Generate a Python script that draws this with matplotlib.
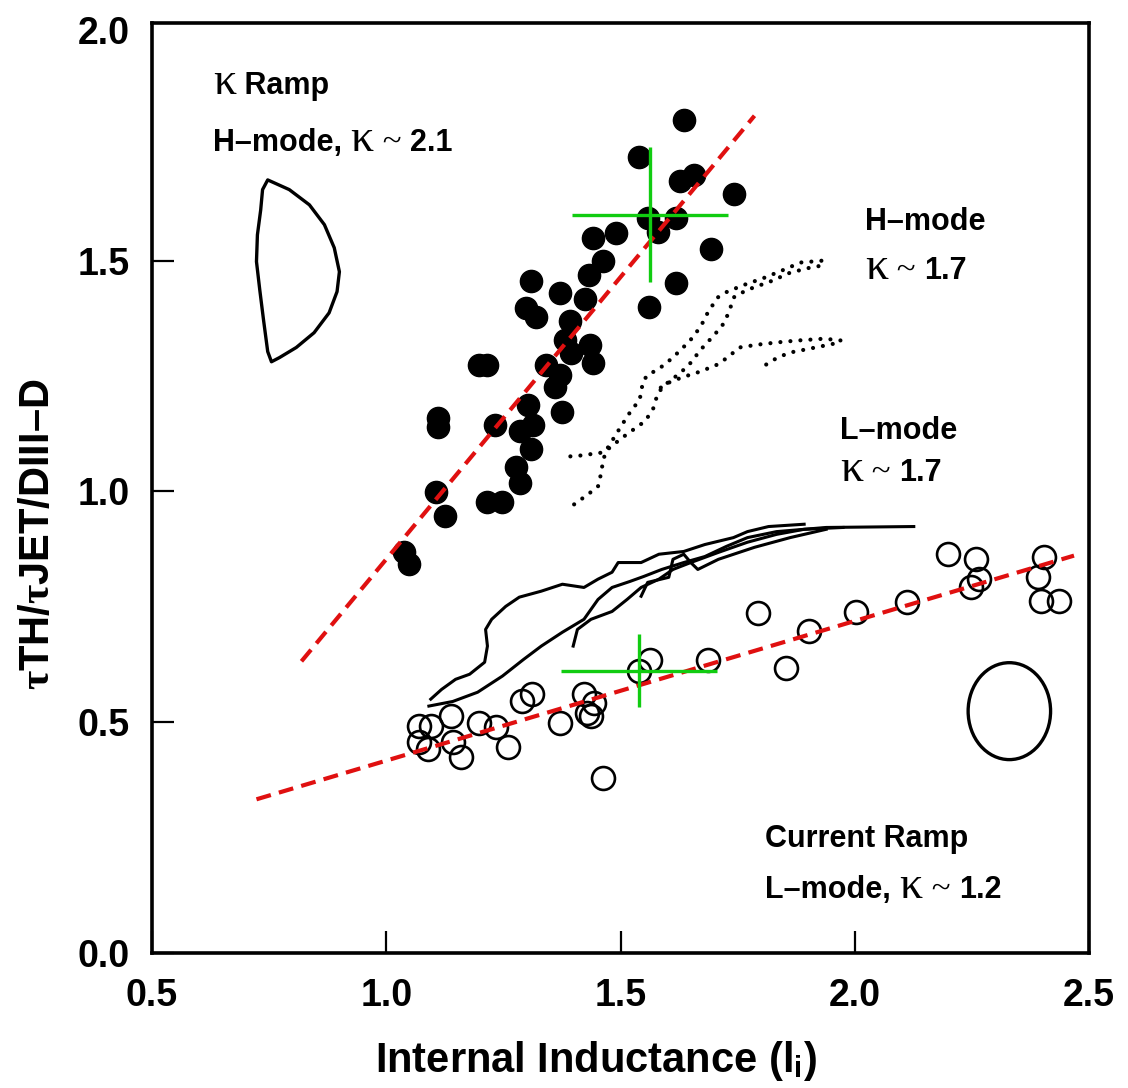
import matplotlib
matplotlib.use('Agg')
import matplotlib.pyplot as plt
from matplotlib.patches import Ellipse, Polygon
from matplotlib.offsetbox import TextArea, HPacker, AnnotationBbox

SANS = ['Liberation Sans', 'DejaVu Sans']
SERIF = ['Liberation Serif', 'DejaVu Serif']
plt.rcParams['font.family'] = SANS
plt.rcParams['font.weight'] = 'bold'
plt.rcParams['mathtext.fontset'] = 'custom'
plt.rcParams['mathtext.rm'] = 'Liberation Serif'
plt.rcParams['mathtext.it'] = 'Liberation Serif'
plt.rcParams['mathtext.bf'] = 'Liberation Serif:bold'
plt.rcParams['mathtext.sf'] = 'Liberation Sans:bold'

# ---------------- data ----------------
# kappa ramp, H-mode (filled circles)
h_li = [1.635, 1.539, 1.626, 1.656, 1.743, 1.558, 1.618, 1.580, 1.442, 1.490,
        1.694, 1.463, 1.433, 1.618, 1.310, 1.371, 1.425, 1.561, 1.299, 1.320,
        1.393, 1.382, 1.435, 1.395, 1.442, 1.197, 1.214, 1.342, 1.371, 1.361,
        1.376, 1.303, 1.110, 1.110, 1.233, 1.314, 1.286, 1.310, 1.276, 1.286,
        1.106, 1.214, 1.246, 1.125, 1.038, 1.048]
h_tau = [1.805, 1.725, 1.673, 1.686, 1.645, 1.593, 1.593, 1.563, 1.550, 1.561,
         1.526, 1.500, 1.468, 1.452, 1.457, 1.429, 1.418, 1.400, 1.398, 1.377,
         1.370, 1.329, 1.318, 1.301, 1.279, 1.275, 1.275, 1.275, 1.253, 1.227,
         1.173, 1.188, 1.160, 1.139, 1.145, 1.145, 1.132, 1.091, 1.052, 1.019,
         0.998, 0.978, 0.978, 0.946, 0.868, 0.842]

# current ramp, L-mode (open circles)
l_li = [1.794, 1.903, 2.003, 2.111, 2.200, 1.854, 1.686, 1.563, 1.539, 1.463,
        1.422, 1.444, 1.429, 1.437, 1.371, 1.289, 1.312, 1.259, 1.235, 1.197,
        1.159, 1.138, 1.142, 1.095, 1.070, 1.070, 1.089, 2.258, 2.266, 2.249,
        2.404, 2.392, 2.398, 2.436]
l_tau = [0.736, 0.697, 0.738, 0.760, 0.864, 0.617, 0.634, 0.634, 0.610, 0.379,
         0.561, 0.541, 0.519, 0.513, 0.498, 0.545, 0.561, 0.446, 0.489, 0.498,
         0.424, 0.513, 0.457, 0.491, 0.491, 0.457, 0.442, 0.853, 0.810, 0.792,
         0.857, 0.814, 0.762, 0.762]

# fit lines
fit_h_li = [0.819, 1.786]
fit_h_tau = [0.632, 1.814]
fit_l_li = [0.723, 2.468]
fit_l_tau = [0.333, 0.861]

# mean values with spread (green crosses)
cross_li = [1.563, 1.539]
cross_tau = [1.600, 0.612]
cross_li_err = [0.167, 0.167]
cross_tau_err = [0.147, 0.080]

# H-mode, kappa ~ 1.7 (dotted traces)
hd1_li = [1.401, 1.431, 1.452, 1.459, 1.463, 1.473, 1.484, 1.501, 1.520, 1.541,
          1.548, 1.558, 1.580, 1.607, 1.629, 1.650, 1.671, 1.686, 1.707, 1.728,
          1.765, 1.807, 1.850, 1.884, 1.930]
hd1_tau = [0.972, 0.994, 1.011, 1.041, 1.069, 1.095, 1.113, 1.141, 1.171, 1.199,
           1.238, 1.253, 1.264, 1.286, 1.307, 1.329, 1.357, 1.387, 1.420, 1.433,
           1.448, 1.463, 1.481, 1.496, 1.500]
hd2_li = [1.393, 1.416, 1.459, 1.478, 1.499, 1.522, 1.552, 1.569, 1.580, 1.601,
          1.629, 1.650, 1.671, 1.701, 1.722, 1.733, 1.743, 1.771, 1.820, 1.862,
          1.905, 1.939]
hd2_tau = [1.076, 1.078, 1.084, 1.095, 1.113, 1.130, 1.152, 1.177, 1.214, 1.236,
           1.258, 1.279, 1.307, 1.340, 1.366, 1.394, 1.422, 1.437, 1.455, 1.474,
           1.485, 1.491]
hd3_li = [1.586, 1.607, 1.637, 1.671, 1.707, 1.728, 1.754, 1.792, 1.835, 1.877,
          1.935, 1.990]
hd3_tau = [1.225, 1.238, 1.249, 1.260, 1.275, 1.290, 1.312, 1.318, 1.323, 1.327,
           1.331, 1.325]
hd4_li = [1.811, 1.835, 1.862, 1.892, 1.926, 1.969]
hd4_tau = [1.275, 1.290, 1.301, 1.307, 1.314, 1.323]

# L-mode, kappa ~ 1.7 (solid traces)
ls1_li = [1.095, 1.118, 1.148, 1.178, 1.210, 1.216, 1.212, 1.225, 1.255, 1.284,
          1.331, 1.376, 1.422, 1.452, 1.482, 1.495, 1.544, 1.582, 1.635, 1.680,
          1.741, 1.771, 1.816, 1.892]
ls1_tau = [0.550, 0.571, 0.593, 0.604, 0.630, 0.665, 0.701, 0.723, 0.751, 0.771,
           0.784, 0.799, 0.792, 0.810, 0.825, 0.846, 0.846, 0.864, 0.870, 0.885,
           0.900, 0.913, 0.924, 0.929]
ls2_li = [1.091, 1.142, 1.195, 1.248, 1.293, 1.331, 1.376, 1.422, 1.452, 1.482,
          1.520, 1.550, 1.588, 1.635, 1.680, 1.726, 1.771, 1.833, 1.939, 2.126]
ls2_tau = [0.535, 0.545, 0.565, 0.600, 0.636, 0.665, 0.695, 0.723, 0.766, 0.792,
           0.805, 0.816, 0.831, 0.846, 0.859, 0.881, 0.900, 0.913, 0.922, 0.924]
ls3_li = [1.399, 1.408, 1.437, 1.482, 1.514, 1.544, 1.582, 1.612, 1.650, 1.709,
          1.771, 1.833, 1.892, 1.975]
ls3_tau = [0.665, 0.701, 0.723, 0.740, 0.766, 0.792, 0.810, 0.831, 0.846, 0.868,
           0.890, 0.907, 0.918, 0.922]
ls4_li = [1.544, 1.558, 1.603, 1.612, 1.635, 1.650, 1.665, 1.709, 1.786, 1.862, 1.939]
ls4_tau = [0.773, 0.803, 0.814, 0.853, 0.864, 0.846, 0.831, 0.853, 0.879, 0.900, 0.918]

# plasma cross-section sketches
dshape_x = [0.747, 0.793, 0.836, 0.868, 0.889, 0.900, 0.895, 0.878, 0.846, 0.808,
            0.772, 0.755, 0.747, 0.738, 0.730, 0.723, 0.725, 0.732, 0.736]
dshape_y = [1.675, 1.654, 1.621, 1.578, 1.528, 1.476, 1.433, 1.387, 1.344, 1.312,
            1.290, 1.281, 1.303, 1.372, 1.437, 1.498, 1.556, 1.610, 1.654]
oval_center = (2.330, 0.524)
oval_size = (0.176, 0.210)

xticks = [0.5, 1.0, 1.5, 2.0, 2.5]
yticks = [0.0, 0.5, 1.0, 1.5, 2.0]

# ---------------- figure ----------------
fig = plt.figure(figsize=(11.28, 10.88), dpi=100)
ax = fig.add_axes([152 / 1128, 135 / 1088, 937 / 1128, 930 / 1088])
ax.set_xlim(0.5, 2.5)
ax.set_ylim(0.0, 2.015)

ax.add_patch(Polygon(list(zip(dshape_x, dshape_y)), closed=True, fill=False,
                     edgecolor='black', lw=2.4, joinstyle='round'))
ax.add_patch(Ellipse(oval_center, oval_size[0], oval_size[1], fill=False,
                     edgecolor='black', lw=2.4))

dot_style = dict(color='black', lw=3.0, linestyle=(0, (0.01, 2.4)),
                 dash_capstyle='round')
for xs, ys in [(hd1_li, hd1_tau), (hd2_li, hd2_tau), (hd3_li, hd3_tau), (hd4_li, hd4_tau)]:
    ax.plot(xs, ys, **dot_style)

for xs, ys in [(ls1_li, ls1_tau), (ls2_li, ls2_tau), (ls3_li, ls3_tau), (ls4_li, ls4_tau)]:
    ax.plot(xs, ys, color='black', lw=2.2, solid_joinstyle='round')

ax.plot(h_li, h_tau, linestyle='none', marker='o', markersize=16,
        markerfacecolor='black', markeredgecolor='black')
ax.plot(l_li, l_tau, linestyle='none', marker='o', markersize=16.5,
        markerfacecolor='none', markeredgecolor='black', markeredgewidth=1.9)

red = '#e01010'
ax.plot(fit_h_li, fit_h_tau, color=red, lw=3.0, linestyle=(0, (3.6, 2.0)))
ax.plot(fit_l_li, fit_l_tau, color=red, lw=3.0, linestyle=(0, (3.6, 2.0)))

ax.errorbar(cross_li, cross_tau, xerr=cross_li_err, yerr=cross_tau_err,
            fmt='none', ecolor='#11cc11', elinewidth=2.4, capsize=0)

# annotations (mixed sans bold text with serif kappa)
TFS = 22
sans_p = dict(size=TFS, weight='bold', family=SANS)
kap_p = dict(size=33, weight='normal', family=SERIF)
til_p = dict(size=25, weight='normal', family=SERIF)


def rich(x, y, parts):
    boxes = [TextArea(s, textprops=p) for s, p in parts]
    pk = HPacker(children=boxes, align='baseline', pad=0, sep=0)
    ab = AnnotationBbox(pk, (x, y), xycoords='data', box_alignment=(0, 0.5),
                        frameon=False, pad=0)
    ax.add_artist(ab)


rich(0.630, 1.885, [('κ', kap_p), (' Ramp', sans_p)])
rich(0.630, 1.762, [('H–mode, ', sans_p), ('κ', kap_p), (' ~ ', til_p), ('2.1', sans_p)])
rich(2.022, 1.584, [('H–mode', sans_p)])
rich(2.022, 1.485, [('κ', kap_p), (' ~ ', til_p), ('1.7', sans_p)])
rich(1.969, 1.130, [('L–mode', sans_p)])
rich(1.969, 1.048, [('κ', kap_p), (' ~ ', til_p), ('1.7', sans_p)])
rich(1.809, 0.247, [('Current Ramp', sans_p)])
rich(1.809, 0.143, [('L–mode, ', sans_p), ('κ', kap_p), (' ~ ', til_p), ('1.2', sans_p)])

# axes styling
for side in ['left', 'right', 'top', 'bottom']:
    ax.spines[side].set_linewidth(2.6)
ax.set_xticks(xticks)
ax.set_yticks(yticks)
ax.set_xticklabels([f'{v:.1f}' for v in xticks])
ax.set_yticklabels([f'{v:.1f}' for v in yticks])
ax.tick_params(direction='in', length=16, width=1.6, labelsize=27,
               top=False, right=False)
ax.tick_params(axis='x', pad=18)
ax.tick_params(axis='y', pad=16)
for lab in ax.get_xticklabels() + ax.get_yticklabels():
    lab.set_fontweight('bold')
ax.yaxis.get_major_ticks()[-1].tick1line.set_visible(False)

ax.set_xlabel(r'Internal Inductance (l$_\mathsf{i}$)', fontsize=30,
              fontweight='bold')
ax.xaxis.set_label_coords(0.474, -0.092)
ax.set_ylabel(r'$\tau$TH/$\tau$JET/DIII–D', fontsize=30, fontweight='bold')
ax.yaxis.set_label_coords(-0.100, 0.45)

fig.savefig('out.png', dpi=100)
